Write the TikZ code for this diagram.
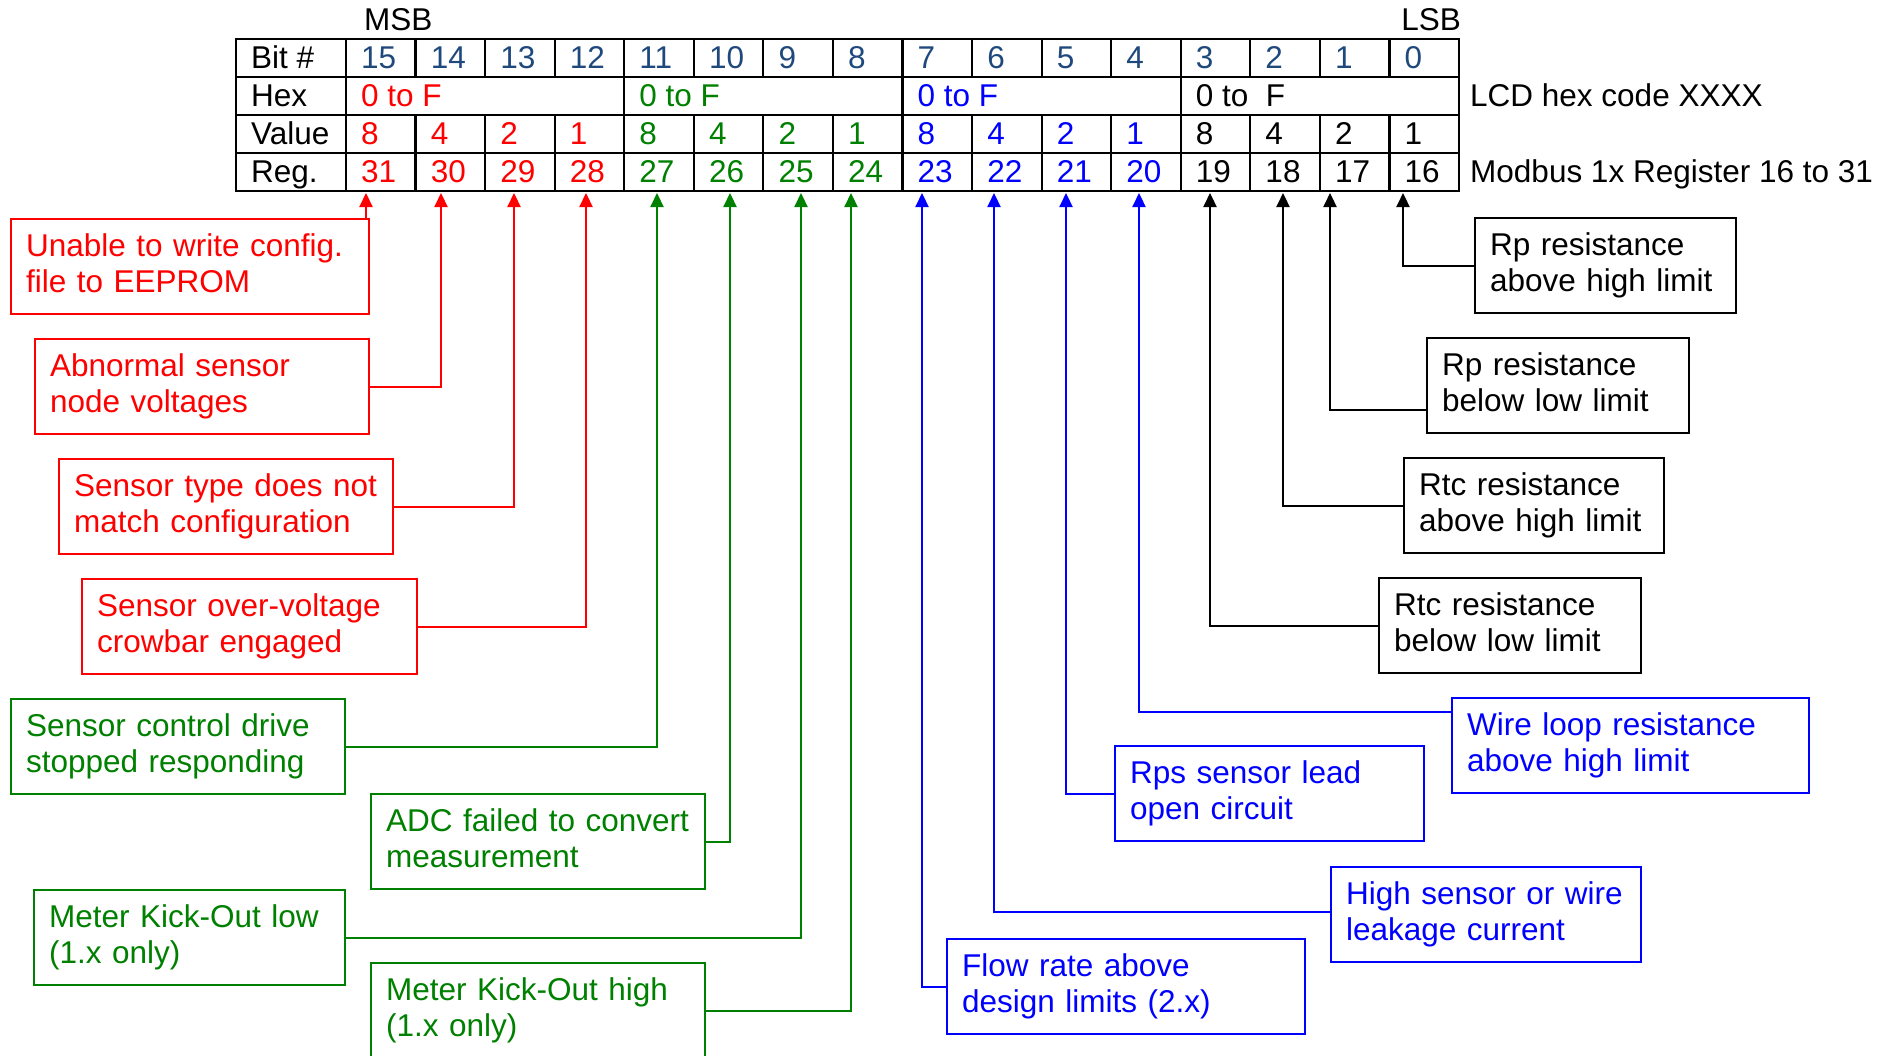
\documentclass[tikz,border=0pt]{standalone}
\usepackage{fontspec}
\setmainfont{Liberation Sans}
\usepackage{xcolor}
\usetikzlibrary{arrows.meta}
\definecolor{errred}{HTML}{FF0000}
\definecolor{errgreen}{HTML}{008000}
\definecolor{errblue}{HTML}{0000FF}
\definecolor{bitblue}{HTML}{1F497D}
\tikzset{
>={Triangle[length=14pt,width=13pt]}, % filled arrow heads
every node/.style={font=\fontsize{31.5}{36}\selectfont}, % Arial sized text
cell/.style={anchor=base west, inner sep=0pt}, % text in the table
grid/.style={line width=2.2pt}, % table lines
errbox/.style={draw, line width=2.2pt, anchor=north west, align=left, text width=#1,
  inner xsep=15pt, inner ysep=11.5pt, text height=26pt, text depth=46pt}, % one error flag
flag/.style={->, line width=2.2pt}, % box to register bit
}

\begin{document}
\begin{tikzpicture}[x=1pt,y=-1pt]
        \useasboundingbox (0,0) rectangle (1900,1055);

        % register table
        \draw[grid] (236,39) rectangle (1459,191);
        \foreach \y in {77,115,153} \draw[grid] (236,\y) -- (1459,\y);
        \foreach \k in {1,...,15} \draw[grid] ({346+69.56*\k},39) -- ++(0,38) ({346+69.56*\k},115) -- ++(0,76);
        \foreach \x in {346,624.2,902.5,1180.7} \draw[grid] (\x,39) -- (\x,191);

        \node[cell] (msb) at (364,30) {MSB};
        \node[cell, anchor=base east] (lsb) at (1461,30) {LSB};
        \node[cell] (lbit) at (251,68.5) {Bit \#};
        \node[cell] (lhex) at (251,106.5) {Hex};
        \node[cell] (lval) at (251,144.5) {Value};
        \node[cell] (lreg) at (251,182.5) {Reg.};
        \node[cell] (lcd) at (1470,106.5) {LCD hex code XXXX};
        \node[cell] (modbus) at (1470,182.5) {Modbus 1x Register 16 to 31};

        \foreach \g/\col/\hx in {0/errred/0 to F, 1/errgreen/0 to F, 2/errblue/0 to F, 3/black/0 to\ \ F}{
          \node[cell, text=\col] (hex\g) at ({361+278.25*\g},106.5) {\hx};
          \foreach \j in {0,...,3}{
            \pgfmathtruncatemacro\k{4*\g+\j}
            \pgfmathtruncatemacro\bit{15-\k}
            \pgfmathtruncatemacro\reg{31-\k}
            \pgfmathtruncatemacro\val{2^(3-\j)}
            \node[cell, text=bitblue] (bit\bit) at ({361+69.56*\k},68.5) {\bit};
            \node[cell, text=\col] (val\bit) at ({361+69.56*\k},144.5) {\val};
            \node[cell, text=\col] (reg\reg) at ({361+69.56*\k},182.5) {\reg};
          }
        }

        \foreach \r/\x in {31/366,30/441,29/514,28/586,27/657,26/730,25/801,24/851,
                           23/922,22/994,21/1066,20/1139,19/1210,18/1283,17/1330,16/1403}
          \coordinate (t\r) at (\x,193);

        % error flags
        \node[errbox=328, errred] (e31) at (10,218) {Unable to write config.\\file to EEPROM};
        \node[errbox=304, errred] (e30) at (34,338) {Abnormal sensor\\node voltages};
        \node[errbox=304, errred] (e29) at (58,458) {Sensor type does not\\match configuration};
        \node[errbox=305, errred] (e28) at (81,578) {Sensor over-voltage\\crowbar engaged};
        \node[errbox=304, errgreen] (e27) at (10,698) {Sensor control drive\\stopped responding};
        \node[errbox=304, errgreen] (e26) at (370,793) {ADC failed to convert\\measurement};
        \node[errbox=281, errgreen] (e25) at (33,889) {Meter Kick-Out low\\(1.x only)};
        \node[errbox=304, errgreen] (e24) at (370,962) {Meter Kick-Out high\\(1.x only)};
        \node[errbox=328, errblue] (e23) at (946,938) {Flow rate above\\design limits (2.x)};
        \node[errbox=280, errblue] (e22) at (1330,866) {High sensor or wire\\leakage current};
        \node[errbox=279, errblue] (e21) at (1114,745) {Rps sensor lead\\open circuit};
        \node[errbox=327, errblue] (e20) at (1451,697) {Wire loop resistance\\above high limit};
        \node[errbox=232] (e19) at (1378,577) {Rtc resistance\\below low limit};
        \node[errbox=230] (e18) at (1403,457) {Rtc resistance\\above high limit};
        \node[errbox=232] (e17) at (1426,337) {Rp resistance\\below low limit};
        \node[errbox=231] (e16) at (1474,217) {Rp resistance\\above high limit};

        \draw[flag, errred] (e31.north -| t31) -- (t31);
        \draw[flag, errred] (e30.east) -| (t30);
        \draw[flag, errred] (e29.east) -| (t29);
        \draw[flag, errred] (e28.east) -| (t28);
        \draw[flag, errgreen] (e27.east) -| (t27);
        \draw[flag, errgreen] (e26.east) -| (t26);
        \draw[flag, errgreen] (e25.east) -| (t25);
        \draw[flag, errgreen] (e24.east) -| (t24);
        \draw[flag, errblue] (e23.west) -| (t23);
        \draw[flag, errblue] ([yshift=3pt]e22.west) -| (t22);
        \draw[flag, errblue] (e21.west) -| (t21);
        \draw[flag, errblue] ([yshift=-15pt]e20.north west) -| (t20);
        \draw[flag] (e19.west) -| (t19);
        \draw[flag] (e18.west) -| (t18);
        \draw[flag] ([yshift=-24pt]e17.west) -| (t17);
        \draw[flag] (e16.west) -| (t16);
\end{tikzpicture}
\end{document}
